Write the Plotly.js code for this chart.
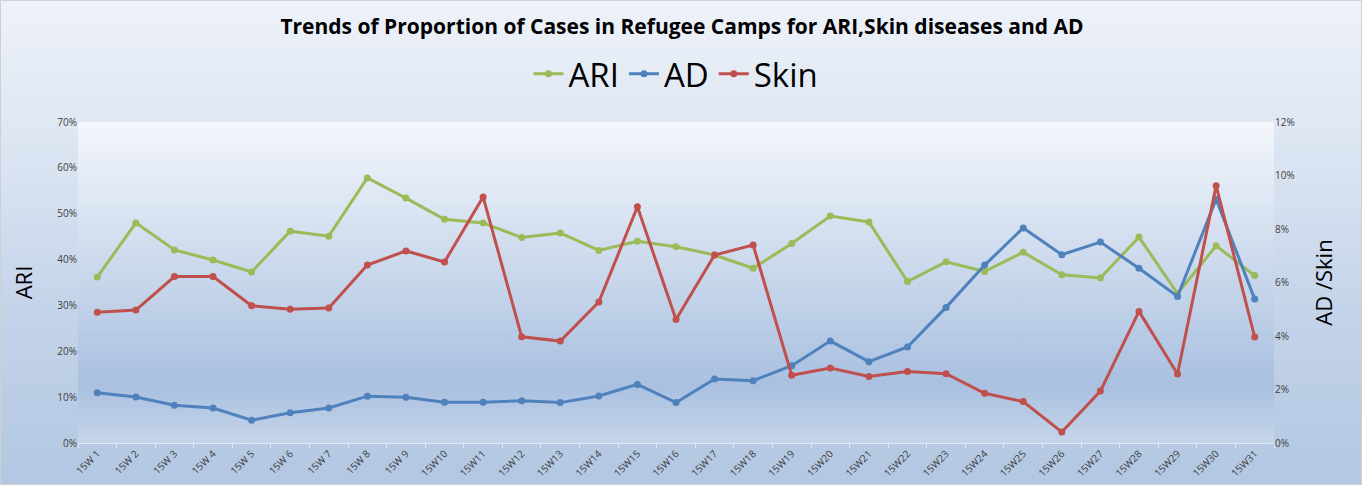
<!DOCTYPE html>
<html>
<head>
<meta charset="utf-8">
<script src="https://cdn.plot.ly/plotly-3.0.1.min.js"></script>
<style>
html,body{margin:0;padding:0;}
#chart{width:1362px;height:485px;background:linear-gradient(to bottom,#eef2f9 0%,#d9e3f1 35%,#c3d3e9 65%,#b3c7e2 100%);box-sizing:border-box;border:1px solid #d0d0d0;}
</style>
</head>
<body>
<div id="chart"></div>
<script>
const weeks = ["15W 1","15W 2","15W 3","15W 4","15W 5","15W 6","15W 7","15W 8","15W 9","15W10","15W11","15W12","15W13","15W14","15W15","15W16","15W17","15W18","15W19","15W20","15W21","15W22","15W23","15W24","15W25","15W26","15W27","15W28","15W29","15W30","15W31"];
const ari = [0.362,0.480,0.421,0.399,0.373,0.462,0.451,0.578,0.534,0.488,0.480,0.448,0.458,0.420,0.440,0.428,0.410,0.381,0.435,0.495,0.482,0.352,0.395,0.374,0.416,0.367,0.360,0.449,0.326,0.430,0.365];
const ad = [0.0188,0.0172,0.0141,0.0131,0.0085,0.0113,0.0131,0.0175,0.0171,0.0152,0.0152,0.0158,0.0151,0.0176,0.0219,0.0151,0.0239,0.0233,0.0289,0.0381,0.0304,0.0359,0.0507,0.0665,0.0804,0.0704,0.0751,0.0653,0.0548,0.0911,0.0538];
const skin = [0.0489,0.0497,0.0622,0.0622,0.0513,0.0500,0.0505,0.0665,0.0718,0.0677,0.0920,0.0397,0.0381,0.0527,0.0883,0.0462,0.0703,0.0740,0.0253,0.0280,0.0249,0.0267,0.0259,0.0186,0.0155,0.0041,0.0194,0.0492,0.0258,0.0962,0.0396];

const gradSvg = '<svg xmlns="http://www.w3.org/2000/svg" width="100" height="100" preserveAspectRatio="none"><defs><linearGradient id="g" x1="0" y1="0" x2="0" y2="1"><stop offset="0" stop-color="#f3f6fb"/><stop offset="0.45" stop-color="#cbd9ec"/><stop offset="0.82" stop-color="#a9c0e0"/><stop offset="1" stop-color="#c6d5ea"/></linearGradient></defs><rect width="100" height="100" fill="url(#g)"/></svg>';
const gradUri = 'data:image/svg+xml;base64,' + btoa(gradSvg);

const traces = [
  {x: weeks, y: ari, name: 'ARI', type: 'scatter', mode: 'lines+markers', yaxis: 'y',
   line: {color: '#9BBB59', width: 3}, marker: {color: '#9BBB59', size: 7}},
  {x: weeks, y: ad, name: 'AD', type: 'scatter', mode: 'lines+markers', yaxis: 'y2',
   line: {color: '#4F81BD', width: 3}, marker: {color: '#4F81BD', size: 7}},
  {x: weeks, y: skin, name: 'Skin', type: 'scatter', mode: 'lines+markers', yaxis: 'y2',
   line: {color: '#C0504D', width: 3}, marker: {color: '#C0504D', size: 7}}
];

const tickFont = {family: 'Open Sans, sans-serif', size: 10, color: '#404040'};

const layout = {
  width: 1362, height: 485,
  paper_bgcolor: 'rgba(0,0,0,0)', plot_bgcolor: 'rgba(0,0,0,0)',
  margin: {l: 77, r: 89, t: 121, b: 43},
  title: {text: 'Trends of Proportion of Cases in Refugee Camps for ARI,Skin diseases and AD',
          font: {family: 'Open Sans, sans-serif', size: 21, color: '#000', weight: 'bold'},
          x: 0.5, xanchor: 'center', y: 0.948, yanchor: 'middle'},
  showlegend: true,
  legend: {orientation: 'h', x: 0.5, xanchor: 'center', y: 1.15, yanchor: 'middle',
           font: {family: 'Open Sans, sans-serif', size: 33, color: '#000'},
           bgcolor: 'rgba(0,0,0,0)', itemwidth: 30, tracegroupgap: 0},
  xaxis: {type: 'category', range: [-0.5, 30.5], tickangle: -45, tickfont: tickFont,
          ticks: 'outside', tickson: 'boundaries', ticklen: 4, tickcolor: '#dfe7f2',
          showline: true, linecolor: '#dfe7f2', showgrid: false, zeroline: false, fixedrange: true},
  yaxis: {range: [0, 0.7], dtick: 0.1, tickformat: '.0%', tickfont: tickFont,
          showgrid: false, zeroline: false, showline: false, ticks: '', ticklen: 0,
          title: {text: 'ARI', font: {family: 'Open Sans, sans-serif', size: 22, color: '#000'}, standoff: 18}},
  yaxis2: {range: [0, 0.12], dtick: 0.02, tickformat: '.0%', tickfont: tickFont, overlaying: 'y', side: 'right',
           showgrid: false, zeroline: false, showline: false, ticks: '', ticklen: 0,
           title: {text: 'AD /Skin', font: {family: 'Open Sans, sans-serif', size: 22, color: '#000'}, standoff: 22}},
  images: [{source: gradUri, xref: 'paper', yref: 'paper', x: 0, y: 1, sizex: 1, sizey: 1,
            xanchor: 'left', yanchor: 'top', sizing: 'stretch', layer: 'below'}]
};

Plotly.newPlot('chart', traces, layout, {displayModeBar: false, staticPlot: true});
</script>
</body>
</html>
